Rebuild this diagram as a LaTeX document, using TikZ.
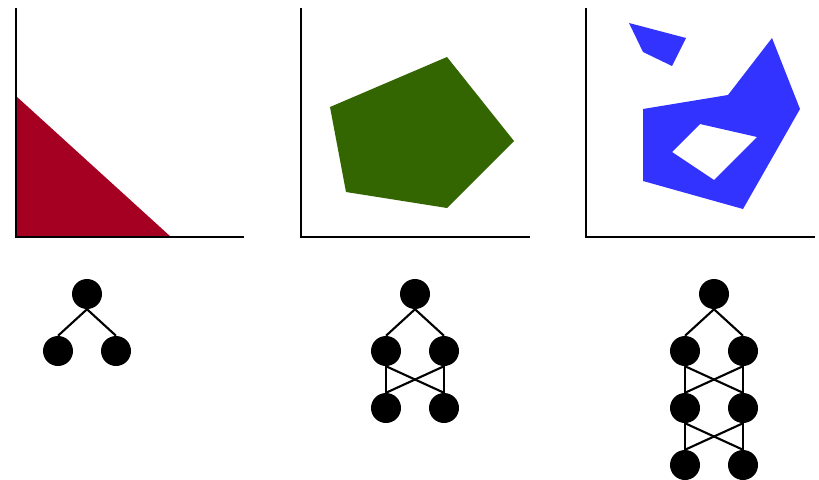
\documentclass[tikz,border=0pt]{standalone}
\definecolor{areared}{RGB}{165,0,33}
\definecolor{pentgreen}{RGB}{51,102,0}
\definecolor{polyblue}{RGB}{51,51,255}
\begin{document}
\begin{tikzpicture}[x=0.03cm, y=-0.03cm,
    axisline/.style={line width=2.5pt},
    vert/.style={circle, fill=black, inner sep=0pt, minimum size=0.9cm},
    link/.style={line width=1.8pt}]
    \useasboundingbox (0,0) rectangle (819,479);

    % --- Khung 1: tam giac do ---
    \fill[areared] (16,96) -- (171,237) -- (16,237) -- cycle;
    \draw[axisline] (16,8) -- (16,237) -- (244,237);

    % --- Khung 2: ngu giac xanh la ---
    \fill[pentgreen] (330,107) -- (447,57) -- (514,141) -- (447,208) -- (346,192) -- cycle;
    \draw[axisline] (301,8) -- (301,237) -- (530,237);

    % --- Khung 3: da giac xanh duong co lo ---
    \fill[polyblue] (629,23) -- (686,38) -- (672,66) -- (643,52) -- cycle;
    \fill[polyblue, even odd rule]
        (643,109) -- (728,95) -- (772,38) -- (800,109) -- (743,209) -- (643,181) -- cycle
        (700,124) -- (757,137) -- (714,180) -- (672,152) -- cycle;
    \draw[axisline] (586,8) -- (586,237) -- (815,237);

    % --- Cay 1 ---
    \node[vert] (a0) at (87,294) {};
    \node[vert] (a1) at (58,351) {};
    \node[vert] (a2) at (116,351) {};
    \draw[link] (a0.south) -- (a1.north);
    \draw[link] (a0.south) -- (a2.north);

    % --- Cay 2 ---
    \node[vert] (b0) at (415,294) {};
    \node[vert] (b1) at (386,351) {};
    \node[vert] (b2) at (444,351) {};
    \node[vert] (b3) at (386,408) {};
    \node[vert] (b4) at (444,408) {};
    \draw[link] (b0.south) -- (b1.north);
    \draw[link] (b0.south) -- (b2.north);
    \foreach \u in {b1,b2}
        \foreach \v in {b3,b4}
            \draw[link] (\u.south) -- (\v.north);

    % --- Cay 3 ---
    \node[vert] (c0) at (714,294) {};
    \node[vert] (c1) at (685,351) {};
    \node[vert] (c2) at (743,351) {};
    \node[vert] (c3) at (685,408) {};
    \node[vert] (c4) at (743,408) {};
    \node[vert] (c5) at (685,465) {};
    \node[vert] (c6) at (743,465) {};
    \draw[link] (c0.south) -- (c1.north);
    \draw[link] (c0.south) -- (c2.north);
    \foreach \u in {c1,c2}
        \foreach \v in {c3,c4}
            \draw[link] (\u.south) -- (\v.north);
    \foreach \u in {c3,c4}
        \foreach \v in {c5,c6}
            \draw[link] (\u.south) -- (\v.north);
\end{tikzpicture}
\end{document}
